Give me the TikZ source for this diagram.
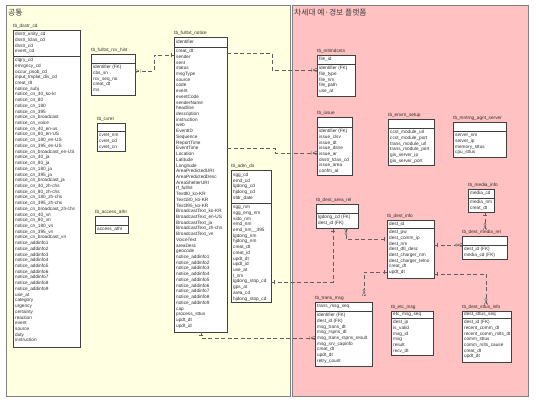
\documentclass[tikz,border=0pt]{standalone}
\usepackage{fontspec}
\setmainfont{Liberation Sans}
\newfontfamily\krfont{Noto Sans CJK KR}
\usetikzlibrary{fit,shadows,decorations.markings}

\definecolor{ybg}{RGB}{255,255,225}
\definecolor{pbg}{RGB}{255,193,193}
\definecolor{pborder}{RGB}{128,128,128}
\definecolor{linegray}{RGB}{95,95,95}
\definecolor{txt}{RGB}{45,45,45}

\newcommand\rowfont{\fontsize{4.7}{5.72}\selectfont}
\newcommand\titlefont{\krfont\fontsize{7.8}{8}\selectfont}

\tikzset{
  panel/.style={draw=pborder, line width=0.6pt},
  erbox/.style={draw=black!75, fill=white, line width=0.5pt, inner sep=0pt,
    drop shadow={shadow xshift=1.3pt, shadow yshift=-1.3pt, fill=black!50, opacity=0.8}},
  divline/.style={draw=black!75, line width=0.4pt},
  lbl/.style={font=\rowfont, text=txt, anchor=base west, inner sep=0pt},
  keytxt/.style={font=\rowfont, text=txt, align=left, anchor=west, inner sep=0pt},
  attrtxt/.style={font=\rowfont, text=txt, align=left, anchor=north west, inner sep=0pt},
  conn/.style={draw=linegray, dash pattern=on 4pt off 2.5pt, line width=0.45pt},
  mk/.style={solid, draw=linegray, line width=0.45pt},
  barA/.style={postaction={decorate, decoration={markings,
    mark=at position 3pt with {\draw[mk] (0,-2pt) -- (0,2pt);}}}},
  barB/.style={postaction={decorate, decoration={markings,
    mark=at position -3pt with {\draw[mk] (0,-2pt) -- (0,2pt);}}}},
  crowA/.style={postaction={decorate, decoration={markings,
    mark=at position 0 with {\draw[mk] (4pt,0) -- (0,1.8pt) (4pt,0) -- (0,-1.8pt) (5.5pt,-1.8pt) -- (5.5pt,1.8pt);}}}},
  crowB/.style={postaction={decorate, decoration={markings,
    mark=at position 1 with {\draw[mk] (-4pt,0) -- (0,1.8pt) (-4pt,0) -- (0,-1.8pt) (-5.5pt,-1.8pt) -- (-5.5pt,1.8pt);}}}},
  crowoA/.style={postaction={decorate, decoration={markings,
    mark=at position 0 with {\draw[mk] (4pt,0) -- (0,1.8pt) (4pt,0) -- (0,-1.8pt); \draw[mk, fill=white] (5.4pt,0) circle (1.2pt);}}}},
  crowoB/.style={postaction={decorate, decoration={markings,
    mark=at position 1 with {\draw[mk] (-4pt,0) -- (0,1.8pt) (-4pt,0) -- (0,-1.8pt); \draw[mk, fill=white] (-5.4pt,0) circle (1.2pt);}}}},
}

% name, x1, y1, x2, y2, ydiv, label, keys, attributes
\newcommand\erbox[9]{%
  \coordinate (#1-nw) at (#2,#3);
  \coordinate (#1-se) at (#4,#5);
  \node[erbox, fit=(#1-nw)(#1-se)] (#1) {};
  \node[lbl] (#1-l) at (#2,#3-2.6) {#7};
  \draw[divline] (#1.west |- 0,#6) -- (#1.east |- 0,#6);
  \node[keytxt] (#1-k) at (#2+2,{(#3+#6)/2}) {#8};
  \node[attrtxt] (#1-a) at (#2+2,#6+1.9) {\rule{0pt}{3.5pt}#9};
}

\begin{document}
\begin{tikzpicture}[x=1pt,y=-1pt]
\path[fill=white] (0,0) rectangle (539,404);
\useasboundingbox (0,0) rectangle (539,404);

% panels
\path[panel, fill=ybg] (6,5) rectangle (290,396);
\path[panel, fill=pbg] (292,5) rectangle (528,396);
\node[anchor=west, inner sep=0pt, font=\titlefont, text=black!75] (t1) at (8,12.5) {공통};
\node[anchor=west, inner sep=0pt, font=\titlefont, text=black!75] (t2) at (294,12.5) {차세대 예·경보 플랫폼};

% tables (left panel)
\erbox{dsstr}{13}{30}{80}{347}{56}{tb\_dsstr\_cd}
{dsstr\_unity\_cd\\dsstr\_lclas\_cd\\dsstr\_cd\\event\_cd}
{ctgry\_cd\\emrgncy\_cd\\occur\_psob\_cd\\input\_tmplat\_div\_cd\\creat\_dt\\notice\_subj\\notice\_cn\_40\_ko-kr\\notice\_cn\_80\\notice\_cn\_180\\notice\_cn\_395\\notice\_cn\_broadcast\\notice\_cn\_voice\\notice\_cn\_40\_en-us\\notice\_cn\_80\_en-US\\notice\_cn\_180\_en-US\\notice\_cn\_395\_en-US\\notice\_cn\_broadcast\_en-US\\notice\_cn\_40\_ja\\notice\_cn\_80\_ja\\notice\_cn\_180\_ja\\notice\_cn\_395\_ja\\notice\_cn\_broadcast\_ja\\notice\_cn\_40\_zh-chs\\notice\_cn\_80\_zh-chs\\notice\_cn\_180\_zh-chs\\notice\_cn\_395\_zh-chs\\notice\_cn\_broadcast\_zh-chs\\notice\_cn\_40\_vn\\notice\_cn\_80\_vn\\notice\_cn\_180\_vn\\notice\_cn\_395\_vn\\notice\_cn\_broadcast\_vn\\notice\_addinfo1\\notice\_addinfo2\\notice\_addinfo3\\notice\_addinfo4\\notice\_addinfo5\\notice\_addinfo6\\notice\_addinfo7\\notice\_addinfo8\\notice\_addinfo9\\use\_at\\category\\urgency\\certainty\\reaction\\event\\source\\duty\\instruction}

\erbox{hist}{91}{54}{135}{95}{63}{tb\_fulltxt\_rcv\_hist}{}
{identifier (FK)\\cbs\_sn\\rcv\_seq\_no\\creat\_dt\\ms}

\erbox{cvret}{97}{123}{125}{151}{131}{tb\_cvret}{}
{cvret\_nm\\cvret\_cd\\cvret\_cn}

\erbox{access}{95}{216}{128}{233}{225}{tb\_access\_athr}{}
{access\_athr}

\erbox{notice}{174}{37}{227}{332}{47}{tb\_fulltxt\_notice}
{identifier}
{creat\_dt\\sender\\sent\\status\\msgType\\source\\code\\event\\eventCode\\senderName\\headline\\description\\instruction\\web\\EventID\\Sequence\\ReportTime\\EventTime\\Location\\Latitude\\Longitude\\AreaPredictedURI\\AreaPredictedDesc\\AreaShelterURI\\rf\_fulltxt\\Text80\_ko-KR\\Text180\_ko-KR\\Text395\_ko-KR\\BroadcastText\_ko-KR\\BroadcastText\_en-US\\BroadcastText\_ja\\BroadcastText\_zh-chs\\BroadcastText\_vn\\VoiceText\\areaDesc\\geocode\\notice\_addinfo1\\notice\_addinfo2\\notice\_addinfo3\\notice\_addinfo4\\notice\_addinfo5\\notice\_addinfo6\\notice\_addinfo7\\notice\_addinfo8\\notice\_addinfo9\\cap\\process\_sttus\\updt\_dt\\updt\_id}

\erbox{adm}{231}{170}{271}{302}{203}{tb\_adm\_ds}
{sgg\_cd\\emd\_cd\\lgdong\_cd\\hjdong\_cd\\stdr\_date}
{sgg\_nm\\sgg\_eng\_nm\\sido\_nm\\emd\_nm\\emd\_nm\_\_395\\lgdong\_nm\\hjdong\_nm\\creat\_dt\\creat\_id\\updt\_dt\\updt\_id\\use\_at\\l\_nm\\lgdong\_stop\_cd\\gps\_at\\area\_cd\\hjdong\_stop\_cd}

% tables (right panel)
\erbox{mlt}{317}{55}{355}{96}{64}{tb\_mltmdcnts}
{file\_id}
{identifier (FK)\\file\_type\\file\_nm\\file\_path\\use\_at}

\erbox{issue}{317}{117}{352}{175}{127}{tb\_issue}{}
{identifier (FK)\\issue\_clsv\\issue\_dt\\issue\_dsne\\issue\_ar\\dsstr\_lclas\_cd\\issue\_area\\confm\_at}

\erbox{envrn}{388}{119}{434}{165}{128}{tb\_envrn\_setup}{}
{ccst\_module\_url\\ccst\_module\_port\\trans\_module\_url\\trans\_module\_port\\gis\_server\_ip\\gis\_server\_port}

\erbox{mntrng}{453}{122}{506}{157}{131}{tb\_mntrng\_agnt\_server}{}
{server\_nm\\server\_ip\\memory\_sttus\\cpu\_sttus}

\erbox{minfo}{468}{189}{494}{212}{198}{tb\_media\_info}
{media\_cd}
{media\_nm\\creat\_dt}

\erbox{area}{316}{204}{358}{228}{213}{tb\_dest\_area\_rel}{}
{lgdong\_cd (FK)\\dest\_id (FK)}

\erbox{dest}{387}{220}{434}{278}{228}{tb\_dest\_info}
{dest\_id}
{dest\_pw\\dest\_comm\_ip\\dest\_nm\\dest\_dtl\_desc\\dest\_charger\_nm\\dest\_charger\_telno\\creat\_dt\\updt\_dt}

\erbox{mrel}{462}{236}{507}{259}{245}{tb\_dest\_media\_rel}{}
{dest\_id (FK)\\media\_cd (FK)}

\erbox{trans}{315}{302}{372}{366}{311}{tb\_trans\_msg}
{trans\_msg\_seq}
{identifier (FK)\\dest\_id (FK)\\msg\_trans\_dt\\msg\_rspns\_dt\\msg\_trans\_rspns\_result\\msg\_srv\_capinfo\\creat\_dt\\updt\_dt\\retry\_count}

\erbox{etc}{391}{311}{433}{355}{318}{tb\_etc\_msg}
{etc\_msg\_seq}
{dest\_ip\\is\_valid\\msg\_id\\msg\\result\\recv\_dt}

\erbox{sttus}{462}{311}{511}{362}{318}{tb\_dest\_sttus\_info}
{dest\_sttus\_seq}
{dest\_id (FK)\\recent\_comm\_dt\\recent\_comm\_rslts\_dt\\comm\_sttus\\comm\_rslts\_cause\\creat\_dt\\updt\_dt}

% connectors
\draw[conn, crowA, barB] (hist.east |- 0,71) -- (154,71) |- (notice.west |- 0,55);
\draw[conn, crowB] (notice.east |- 0,53) -- (272,53) |- (mlt.west |- 0,70);
\draw[conn, crowB] (notice.east |- 0,148) -- (275,148) |- (issue.west |- 0,153);
\draw[conn, barA, crowB] (notice.south -| 201,0) |- (trans.west |- 0,338);
\draw[conn, barA, barB] (adm.east |- 0,282) -| (area.south -| 333,0);
\draw[conn, crowoA, barB] (area.south -| 346,0) |- (dest.west |- 0,239);
\draw[conn, barA, crowoB] (dest.west |- 0,272) -| (trans-l.north -| 364,0);
\draw[conn, barA, crowoB] (dest.east |- 0,274) -| (sttus-l.north -| 486,0);
\draw[conn, barA, crowoB] (dest.east |- 0,245) -- (mrel.west |- 0,245);
\draw[conn, barA, crowoB] (minfo.south -| 485,0) -- (mrel-l.north -| 485,0);
\end{tikzpicture}
\end{document}
